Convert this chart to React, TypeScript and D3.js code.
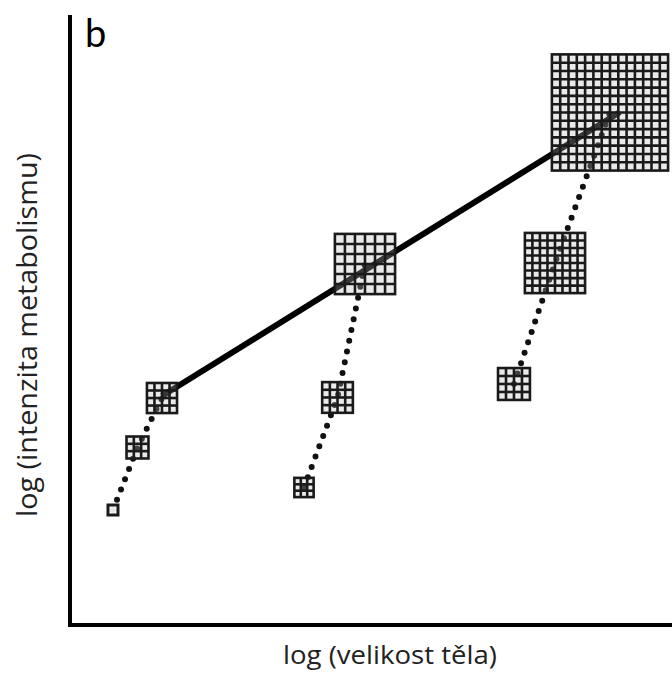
import React, { useEffect, useRef } from 'react'
import * as d3 from 'd3'

// log body size (x), log metabolic rate (y), square size and grid cells per square
const squareGroup = ['A', 'A', 'A', 'B', 'B', 'B', 'C', 'C', 'C']
const squareX = [0.714, 1.121, 1.528, 3.887, 4.444, 4.9, 7.375, 8.056, 8.97]
const squareY = [1.885, 2.91, 3.721, 2.254, 3.73, 5.918, 3.951, 5.934, 8.402]
const squareSize = [0.166, 0.365, 0.5, 0.32, 0.51, 1.0, 0.53, 1.0, 1.93]
const squareCells = [1, 3, 4, 3, 4, 6, 4, 8, 14]

// interspecific line
const lineX = [1.528, 9.136]
const lineY = [3.754, 8.41]

const panelLabel = 'b'
const xLabel = 'log (velikost těla)'
const yLabel = 'log (intenzita metabolismu)'

export default function App() {
  const svgRef = useRef(null)

  useEffect(() => {
    const totalW = 672
    const totalH = 677
    const margin = { top: 15, right: 0, bottom: 52, left: 70 }

    const x = d3.scaleLinear().domain([0, 10]).range([margin.left, totalW - margin.right])
    const y = d3.scaleLinear().domain([0, 10]).range([totalH - margin.bottom, margin.top])

    const svg = d3.select(svgRef.current)
    svg.selectAll('*').remove()

    const squares = squareX.map((d, i) => ({
      group: squareGroup[i],
      x: d,
      y: squareY[i],
      size: squareSize[i],
      cells: squareCells[i]
    }))

    // dotted intraspecific lines
    const dotted = d3
      .line()
      .x(d => x(d.x))
      .y(d => y(d.y))

    const groups = d3.groups(squares, d => d.group)
    svg
      .append('g')
      .selectAll('path')
      .data(groups)
      .enter()
      .append('path')
      .attr('d', d => dotted(d[1]))
      .attr('fill', 'none')
      .attr('stroke', '#111')
      .attr('stroke-width', 6)
      .attr('stroke-linecap', 'round')
      .attr('stroke-dasharray', '0,11')

    // solid interspecific line
    svg
      .append('line')
      .attr('x1', x(lineX[0]))
      .attr('y1', y(lineY[0]))
      .attr('x2', x(lineX[1]))
      .attr('y2', y(lineY[1]))
      .attr('stroke', '#000')
      .attr('stroke-width', 6)

    // gridded squares
    const side = d => x(d.size) - x(0)
    const sq = svg
      .append('g')
      .selectAll('g')
      .data(squares)
      .enter()
      .append('g')
      .attr('transform', d => `translate(${x(d.x) - side(d) / 2}, ${y(d.y) - side(d) / 2})`)

    sq.append('rect')
      .attr('width', side)
      .attr('height', side)
      .attr('fill', d => (d.cells === 1 ? '#fff' : '#bbb'))
      .attr('fill-opacity', d => (d.cells === 1 ? 0.9 : 0.3))
      .attr('stroke', '#1a1a1a')
      .attr('stroke-width', d => (d.cells === 1 ? 3 : 2.6))

    sq.each(function (d) {
      const s = side(d)
      const steps = d3.range(1, d.cells).map(k => (k * s) / d.cells)
      const g = d3.select(this)
      g.selectAll('line.v')
        .data(steps)
        .enter()
        .append('line')
        .attr('x1', v => v)
        .attr('x2', v => v)
        .attr('y1', 0)
        .attr('y2', s)
        .attr('stroke', '#1a1a1a')
        .attr('stroke-width', 2.6)
      g.selectAll('line.h')
        .data(steps)
        .enter()
        .append('line')
        .attr('y1', v => v)
        .attr('y2', v => v)
        .attr('x1', 0)
        .attr('x2', s)
        .attr('stroke', '#1a1a1a')
        .attr('stroke-width', 2.6)
    })

    // axes (no ticks)
    const [x0, x1] = x.range()
    const [y0, y1] = y.range()
    svg
      .append('path')
      .attr('d', `M${x0},${y1}V${y0}H${x1}`)
      .attr('fill', 'none')
      .attr('stroke', '#000')
      .attr('stroke-width', 4)

    // labels
    svg
      .append('text')
      .attr('x', x0 + 15)
      .attr('y', 47)
      .attr('font-family', 'Lato, "Open Sans", sans-serif')
      .attr('font-size', 38)
      .attr('fill', '#000')
      .text(panelLabel)

    svg
      .append('text')
      .attr('x', 390)
      .attr('y', 664)
      .attr('text-anchor', 'middle')
      .attr('font-family', '"Open Sans", sans-serif')
      .attr('font-size', 26)
      .attr('textLength', 214)
      .attr('lengthAdjust', 'spacingAndGlyphs')
      .attr('fill', '#222')
      .text(xLabel)

    svg
      .append('text')
      .attr('transform', 'translate(37, 335) rotate(-90)')
      .attr('text-anchor', 'middle')
      .attr('font-family', '"Open Sans", sans-serif')
      .attr('font-size', 27)
      .attr('textLength', 364)
      .attr('lengthAdjust', 'spacingAndGlyphs')
      .attr('fill', '#222')
      .text(yLabel)
  }, [])

  return (
    <svg
      ref={svgRef}
      width={672}
      height={677}
      style={{ position: 'absolute', left: 0, top: 0, display: 'block', background: '#fff' }}
    />
  )
}
